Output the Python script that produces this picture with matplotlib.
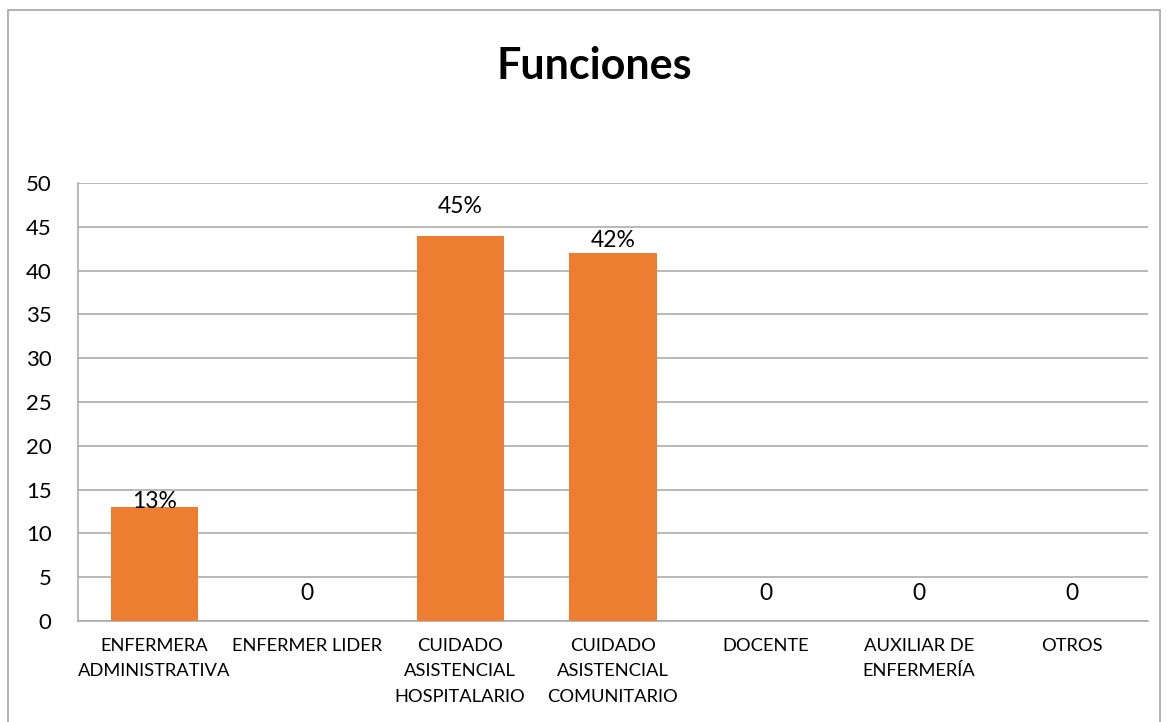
import numpy as np
import matplotlib.pyplot as plt
from matplotlib.patches import Rectangle

categories = ['ENFERMERA\nADMINISTRATIVA', 'ENFERMER LIDER', 'CUIDADO\nASISTENCIAL\nHOSPITALARIO',
              'CUIDADO\nASISTENCIAL\nCOMUNITARIO', 'DOCENTE', 'AUXILIAR DE\nENFERMERÍA', 'OTROS']
values = [13, 0, 44, 42, 0, 0, 0]
labels = ['13%', '0', '45%', '42%', '0', '0', '0']
# label centre height above the bar top (data units), as placed in the original
label_lift = [0.6, 3.1, 3.3, 1.4, 3.1, 3.1, 3.1]

plt.rcParams['font.family'] = ['Lato', 'DejaVu Sans']

fig = plt.figure(figsize=(11.67, 7.22), dpi=100)
ax = fig.add_axes([0.0668, 0.1399, 0.9169, 0.6066])

x = np.arange(len(categories))
ax.bar(x, values, width=0.57, color='#ED7D31', zorder=3)
for xi, v, lab, d in zip(x, values, labels, label_lift):
    ax.text(xi, v + d, lab, ha='center', va='center', fontsize=16.5, zorder=4)

ax.set_xlim(-0.5, len(categories) - 0.5)
ax.set_ylim(0, 50)
ax.set_yticks(range(0, 51, 5))
ax.set_xticks(x)
ax.set_xticklabels(categories, fontsize=13.2, linespacing=1.75)
ax.tick_params(axis='y', labelsize=16, length=0, pad=19)
ax.tick_params(axis='x', length=0, pad=12)
ax.grid(axis='y', color='#a6a6a6', linewidth=1.1, zorder=0)
for s in ['top', 'right']:
    ax.spines[s].set_visible(False)
for s in ['left', 'bottom']:
    ax.spines[s].set_color('#a6a6a6')
    ax.spines[s].set_linewidth(1.1)

fig.text(0.509, 0.908, 'Funciones', ha='center', va='center', fontsize=31, fontweight='bold')

# outer chart frame
fig.patches.append(Rectangle((8 / 1167, -0.05), 1152 / 1167, 1.05 - 10 / 722,
                             transform=fig.transFigure, fill=False,
                             edgecolor='#a6a6a6', linewidth=1.2))

fig.savefig('out.png', dpi=100)
